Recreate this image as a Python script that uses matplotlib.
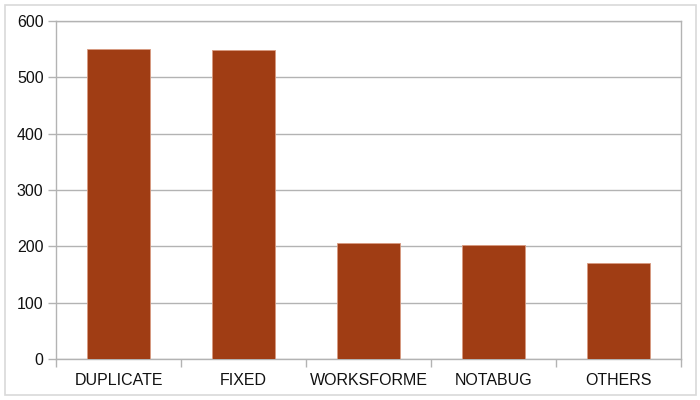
import matplotlib
matplotlib.use("Agg")
import matplotlib.pyplot as plt
from matplotlib.patches import Rectangle

categories = ["DUPLICATE", "FIXED", "WORKSFORME", "NOTABUG", "OTHERS"]
counts = [550, 549, 206, 202, 170]

plt.rcParams['font.family'] = ['Liberation Sans', 'DejaVu Sans']

grey = "#b3b3b3"
fig = plt.figure(figsize=(7, 4), dpi=100)
ax = fig.add_axes([0.08, 0.1025, 0.893, 0.845])

x = list(range(len(categories)))
ax.bar(x, counts, width=0.5, color="#a03d14", edgecolor="#d89a80", linewidth=0.6, zorder=3)

ax.set_xlim(-0.5, len(categories) - 0.5)
ax.set_ylim(0, 600)
ax.set_yticks(range(0, 601, 100))
ax.set_xticks(x)
ax.set_xticklabels(categories)
ax.set_xticks([i - 0.5 for i in range(len(categories) + 1)], minor=True)
ax.tick_params(axis='x', which='major', length=0, pad=10, labelsize=11.5, labelcolor="#111111")
ax.tick_params(axis='x', which='minor', length=6, color=grey, width=1)
ax.tick_params(axis='y', length=6, color=grey, width=1, pad=3, labelsize=11.5, labelcolor="#111111")
ax.yaxis.grid(True, color=grey, linewidth=1, zorder=0)
for s in ax.spines.values():
    s.set_color(grey)
    s.set_linewidth(1)

# outer frame around the whole chart
fig.patches.append(Rectangle((5 / 700, 5 / 400), 691 / 700, 390 / 400, transform=fig.transFigure,
                             fill=False, edgecolor="#d9d9d9", linewidth=1.2))

fig.savefig("out.png", dpi=100)
